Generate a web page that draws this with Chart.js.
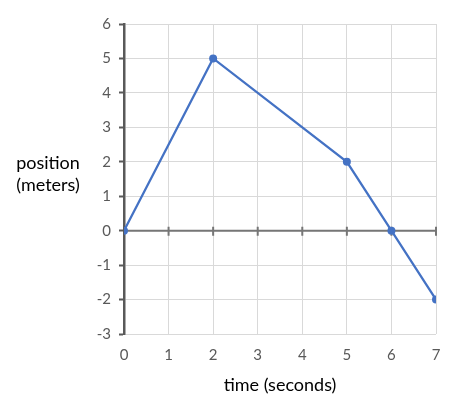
<!DOCTYPE html>
<html>
<head>
<meta charset="utf-8">
<script src="https://cdn.jsdelivr.net/npm/chart.js@4"></script>
<style>
  html, body { margin: 0; padding: 0; background: #fff; }
  #wrap { width: 469px; height: 410px; }
</style>
</head>
<body>
<div id="wrap"><canvas id="posChart"></canvas></div>
<script>
const timeValues = [0, 2, 5, 6, 7];
const positionValues = [0, 5, 2, 0, -2];
const xTicks = [0, 1, 2, 3, 4, 5, 6, 7];
const yTicks = [-3, -2, -1, 0, 1, 2, 3, 4, 5, 6];
const xTitle = 'time (seconds)';
const yTitleLines = ['position', '(meters)'];

const fontFamily = "Lato, 'Open Sans', 'Liberation Sans', sans-serif";

// zero axis with crossing tick marks, drawn under the line
const zeroAxis = {
    id: 'zeroAxis',
    beforeDatasetsDraw(chart) {
        const ctx = chart.ctx;
        const x = chart.scales.x;
        const y = chart.scales.y;
        const y0 = y.getPixelForValue(0);
        ctx.save();
        ctx.strokeStyle = '#767676';
        ctx.lineWidth = 2;
        ctx.beginPath();
        ctx.moveTo(chart.chartArea.left, y0);
        ctx.lineTo(chart.chartArea.right, y0);
        xTicks.forEach(v => {
            if (v === 0) return;
            const px = x.getPixelForValue(v);
            ctx.moveTo(px, y0 - 4);
            ctx.lineTo(px, y0 + 5);
        });
        ctx.stroke();
        ctx.restore();
    },
    afterDraw(chart) {
        const ctx = chart.ctx;
        ctx.save();
        ctx.fillStyle = '#000';
        ctx.font = '18px ' + fontFamily;
        ctx.textAlign = 'center';
        ctx.textBaseline = 'middle';
        ctx.fillText(yTitleLines[0], 48, 163);
        ctx.fillText(yTitleLines[1], 48, 185);
        ctx.restore();
    }
};

const ctx = document.getElementById('posChart').getContext('2d');
const posChart = new Chart(ctx, {
    type: 'line',
    data: {
        datasets: [{
            data: timeValues.map((t, i) => ({ x: t, y: positionValues[i] })),
            borderColor: '#4472c4',
            backgroundColor: '#4472c4',
            borderWidth: 2.25,
            pointRadius: 4,
            pointBorderWidth: 0,
            tension: 0
        }]
    },
    options: {
        responsive: true,
        maintainAspectRatio: false,
        animation: false,
        layout: {
            padding: { top: 24, right: 33, left: 0, bottom: 10 }
        },
        plugins: {
            legend: { display: false },
            tooltip: { enabled: false }
        },
        scales: {
            x: {
                type: 'linear',
                min: 0,
                max: 7,
                afterBuildTicks: scale => { scale.ticks = xTicks.map(v => ({ value: v })); },
                afterFit: scale => { scale.height = 66; },
                grid: {
                    color: '#d9d9d9',
                    lineWidth: 1,
                    drawTicks: false
                },
                border: { display: false },
                ticks: {
                    color: '#595959',
                    font: { family: fontFamily, size: 15 },
                    padding: 12
                },
                title: {
                    display: true,
                    text: xTitle,
                    color: '#000',
                    font: { family: fontFamily, size: 18 },
                    padding: { top: 6 }
                }
            },
            y: {
                type: 'linear',
                min: -3,
                max: 6,
                afterBuildTicks: scale => { scale.ticks = yTicks.map(v => ({ value: v })); },
                afterFit: scale => { scale.width = 124; },
                grid: {
                    color: '#d9d9d9',
                    lineWidth: 1,
                    drawTicks: true,
                    tickLength: 5,
                    tickColor: '#595959',
                    tickWidth: 2
                },
                border: { display: true, color: '#595959', width: 2.5 },
                ticks: {
                    color: '#595959',
                    font: { family: fontFamily, size: 15 },
                    padding: 8
                }
            }
        }
    },
    plugins: [zeroAxis]
});
</script>
</body>
</html>
